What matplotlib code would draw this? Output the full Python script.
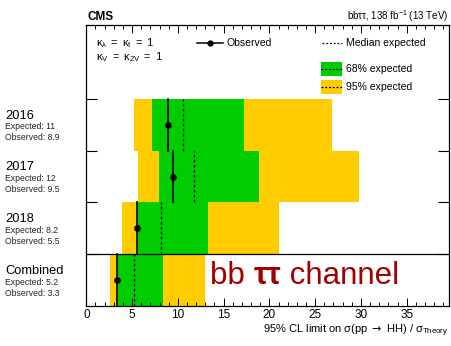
import matplotlib
matplotlib.use('Agg')
import matplotlib.pyplot as plt
import matplotlib.transforms as mtransforms
from matplotlib.patches import Rectangle
import numpy as np

plt.rcParams['font.family'] = ['Liberation Sans', 'DejaVu Sans']
plt.rcParams['mathtext.fontset'] = 'custom'
plt.rcParams['mathtext.rm'] = 'Liberation Sans'
plt.rcParams['mathtext.it'] = 'Liberation Sans:italic'
plt.rcParams['mathtext.sf'] = 'DejaVu Sans'

# rows from bottom to top
labels = ['Combined', '2018', '2017', '2016']
expected_txt = ['5.2', '8.2', '12', '11']
observed_txt = ['3.3', '5.5', '9.5', '8.9']
observed = [3.3, 5.5, 9.5, 8.9]
median = [5.2, 8.2, 11.8, 10.6]
green_lo = [3.5, 5.6, 7.9, 7.2]
green_hi = [8.4, 13.3, 18.9, 17.2]
yellow_lo = [2.6, 3.85, 5.6, 5.2]
yellow_hi = [13.0, 21.0, 29.8, 26.8]

GREEN = '#00cc00'
YELLOW = '#ffcc00'

fig = plt.figure(figsize=(4.52, 3.46), dpi=100)
ax = fig.add_axes([0.191, 0.1156, 0.802, 0.8122])

ypos = np.arange(len(labels))
ax.barh(ypos + 0.5, np.array(yellow_hi) - np.array(yellow_lo), left=yellow_lo,
        height=1.0, color=YELLOW, linewidth=0)
ax.barh(ypos + 0.5, np.array(green_hi) - np.array(green_lo), left=green_lo,
        height=1.0, color=GREEN, linewidth=0)

for i in range(len(labels)):
    ax.plot([median[i], median[i]], [i, i + 1], color='k', lw=0.9,
            ls=(0, (2.2, 1.8)))
    ax.plot([observed[i], observed[i]], [i, i + 1], color='k', lw=1.2)
    ax.plot(observed[i], i + 0.5, 'o', color='k', ms=3.8)

# separator for the combined row
ax.axhline(1, color='k', lw=0.9)

ax.set_xlim(0, 39.6)
ax.set_ylim(0, 5.43)
ax.set_xticks(np.arange(0, 36, 5))
ax.set_xticks(np.arange(0, 40, 1), minor=True)
ax.set_yticks([1, 2, 3, 4])
ax.set_yticklabels([])
ax.tick_params(axis='x', which='major', direction='in', top=True, length=6,
               width=0.7, labelsize=8.5, pad=2)
ax.tick_params(axis='x', which='minor', direction='in', top=True, length=3,
               width=0.7)
ax.tick_params(axis='y', which='major', direction='in', right=True, length=8,
               width=0.8)
for s in ax.spines.values():
    s.set_linewidth(0.9)

ax.set_xlabel(r'95% CL limit on σ(pp $\mathsf{\rightarrow}$ HH) / σ$_{\mathregular{Theory}}$',
              fontsize=8, loc='right', labelpad=1)

# row labels on the left
trans = mtransforms.blended_transform_factory(fig.transFigure, ax.transData)
for i in range(len(labels)):
    top = i + 1
    ax.text(0.011, top - 0.32, labels[i], transform=trans, fontsize=9.3,
            va='center', ha='left')
    ax.text(0.011, top - 0.54, 'Expected: ' + expected_txt[i], transform=trans,
            fontsize=6.2, va='center', ha='left', color='#222222')
    ax.text(0.011, top - 0.75, 'Observed: ' + observed_txt[i], transform=trans,
            fontsize=6.2, va='center', ha='left', color='#222222')

# header
fig.text(88 / 452, 1 - 20.5 / 346, 'CMS', fontsize=8.5, fontweight='bold',
         ha='left', va='baseline')
fig.text(448 / 452, 1 - 20.5 / 346, r'bbττ, 138 fb$^{\mathregular{-1}}$ (13 TeV)',
         fontsize=7, ha='right', va='baseline')

# legend, drawn by hand
tA = ax.transAxes
def ax_xy(px, py):
    return ((px - 86.5) / (449 - 86.5), (306 - py) / (306 - 25))

x0, y0 = ax_xy(96, 46)
ax.text(x0, y0, r'$\mathregular{\kappa_{\lambda}\ =\ \kappa_{t}\ =\ 1}$',
        transform=tA, fontsize=8, va='baseline')
x0, y0 = ax_xy(96, 60)
ax.text(x0, y0, r'$\mathregular{\kappa_{V}\ =\ \kappa_{2V}\ =\ 1}$',
        transform=tA, fontsize=8, va='baseline')

xa, ya = ax_xy(197, 43)
xb, _ = ax_xy(223, 43)
ax.plot([xa, xb], [ya, ya], color='k', lw=1.1, transform=tA)
ax.plot([(xa + xb) / 2], [ya], 'o', color='k', ms=3.5, transform=tA)
xt, _ = ax_xy(227, 43)
ax.text(xt, ya, 'Observed', transform=tA, fontsize=7.5, va='center')

xa, ya = ax_xy(322, 43)
xb, _ = ax_xy(342, 43)
ax.plot([xa, xb], [ya, ya], color='k', lw=0.9, ls=(0, (1.5, 1.5)), transform=tA)
xt, _ = ax_xy(346, 43)
ax.text(xt, ya, 'Median expected', transform=tA, fontsize=7.5, va='center')

for py, col, name in [(69, GREEN, '68% expected'), (87, YELLOW, '95% expected')]:
    xa, ya = ax_xy(321, py + 7)
    xb, yb = ax_xy(342, py - 7)
    ax.add_patch(Rectangle((xa, ya), xb - xa, yb - ya, color=col, lw=0,
                           transform=tA))
    _, yc = ax_xy(321, py)
    ax.plot([xa, xb], [yc, yc], color='k', lw=0.9, ls=(0, (1.5, 1.5)),
            transform=tA)
    ax.text(xt, yc, name, transform=tA, fontsize=7.5, va='center')

# channel label
t1 = ax.text(13.5, 0.42, 'bb ', fontsize=22.5, color='#a00000', va='baseline')
t2 = ax.annotate('ττ', xy=(1, 0), xycoords=t1, fontsize=22.5, color='#a00000',
                 fontweight='bold', va='bottom', ha='left')
t3 = ax.annotate(' channel', xy=(1, 0), xycoords=t2, fontsize=22.5,
                 color='#a00000', va='bottom', ha='left')

fig.savefig('out.png', dpi=100)
